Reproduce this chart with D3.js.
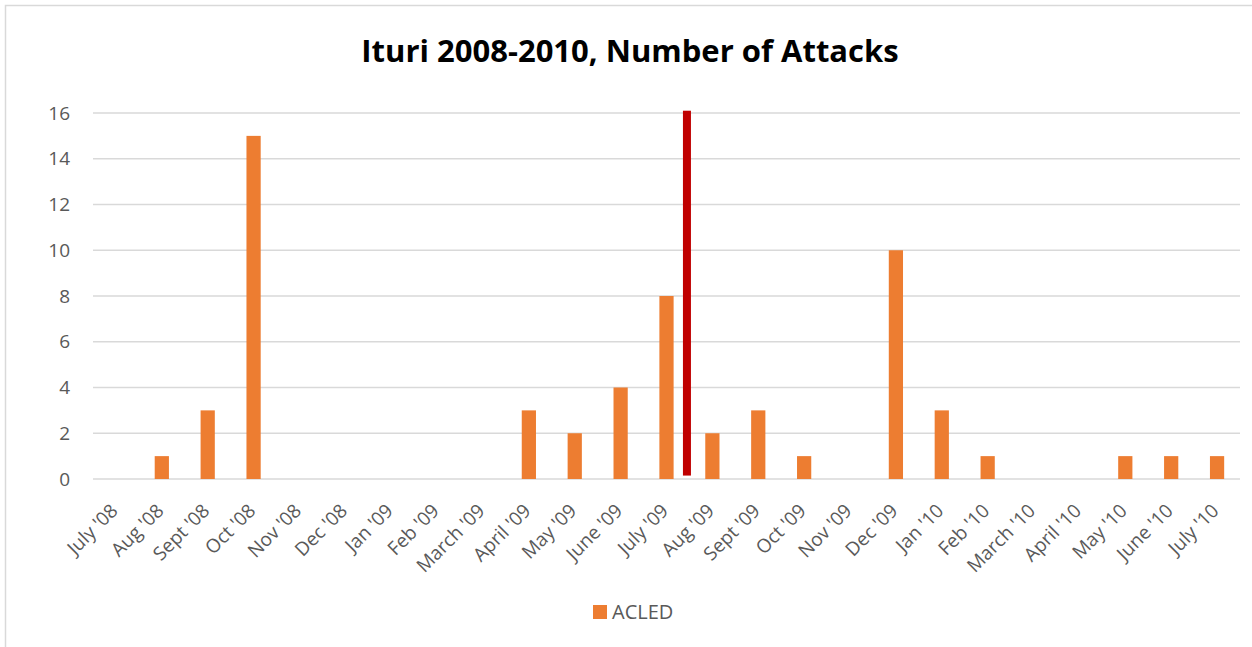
<!DOCTYPE html>
<meta charset="utf-8">
<style>
  body { margin: 0; background: #fff; }
  svg text { font-family: "Open Sans", "Noto Sans", sans-serif; fill: #595959; }
</style>
<svg id="chart" width="1252" height="647"></svg>
<script src="https://d3js.org/d3.v7.min.js"></script>
<script>
var months = ["July '08", "Aug '08", "Sept '08", "Oct '08", "Nov '08", "Dec '08", "Jan '09", "Feb '09",
              "March '09", "April '09", "May '09", "June '09", "July '09", "Aug '09", "Sept '09", "Oct '09",
              "Nov '09", "Dec '09", "Jan '10", "Feb '10", "March '10", "April '10", "May '10", "June '10", "July '10"]
var attacks = [0, 1, 3, 15, 0, 0, 0, 0, 0, 3, 2, 4, 8, 2, 3, 1, 0, 10, 3, 1, 0, 0, 1, 1, 1]
var yTicks = [0, 2, 4, 6, 8, 10, 12, 14, 16]
// red marker between July '09 and Aug '09
var marker = {after: "July '09", before: "Aug '09", top: 16.1, bottom: 0.15}

var margin = {top: 113, right: 12, bottom: 168, left: 93},
    width = 1240 - margin.left,
    height = 479 - margin.top

var svg = d3.select('#chart')

svg.append('rect')
  .attr('x', 5.5).attr('y', 5.5)
  .attr('width', 1300).attr('height', 700)
  .attr('fill', 'none')
  .attr('stroke', '#d9d9d9')
  .attr('stroke-width', 1.5)

svg.append('text')
  .attr('x', 630).attr('y', 62)
  .attr('text-anchor', 'middle')
  .style('font-size', '31px')
  .style('font-weight', 'bold')
  .style('fill', '#000')
  .text('Ituri 2008-2010, Number of Attacks')

var g = svg.append('g')
  .attr('transform', `translate(${margin.left}, ${margin.top})`)

var x = d3.scaleBand().domain(months).range([0, width]).paddingInner(0.69).paddingOuter(0.345)
var y = d3.scaleLinear().domain([0, 16]).range([height, 0])

// gridlines
g.selectAll('.grid')
  .data(yTicks)
  .enter()
  .append('line')
  .attr('x1', 0).attr('x2', width)
  .attr('y1', (d) => y(d)).attr('y2', (d) => y(d))
  .attr('stroke', '#d9d9d9')
  .attr('stroke-width', 1.3)

// y axis labels
var yAxis = g.append('g')
  .call(d3.axisLeft(y).tickValues(yTicks).tickSize(0).tickPadding(23))
yAxis.select('.domain').remove()
yAxis.selectAll('text').style('font-size', '19px').style('fill', '#595959')

// x axis labels
var xAxis = g.append('g')
  .attr('transform', `translate(0, ${height})`)
  .call(d3.axisBottom(x).tickSize(0).tickPadding(0))
xAxis.select('.domain').remove()
xAxis.selectAll('text')
  .style('font-size', '19px')
  .style('fill', '#595959')
  .attr('text-anchor', 'end')
  .attr('y', 0)
  .attr('dy', 0)
  .attr('transform', 'translate(3, 33) rotate(-45)')

// bars
g.selectAll('.bar')
  .data(attacks)
  .enter()
  .append('rect')
  .attr('x', (d, i) => x(months[i]))
  .attr('width', x.bandwidth())
  .attr('y', (d) => y(d))
  .attr('height', (d) => height - y(d))
  .attr('fill', '#ed7d31')

// red marker line
var mx = (x(marker.after) + x(marker.before) + x.bandwidth()) / 2 - 2.5
g.append('rect')
  .attr('x', mx - 4)
  .attr('width', 8)
  .attr('y', y(marker.top))
  .attr('height', y(marker.bottom) - y(marker.top))
  .attr('fill', '#c00000')

// legend
var legend = svg.append('g').attr('transform', 'translate(593, 605)')
legend.append('rect').attr('width', 14).attr('height', 14).attr('fill', '#ed7d31')
legend.append('text').attr('x', 19).attr('y', 14).style('font-size', '20px').text('ACLED')
</script>
